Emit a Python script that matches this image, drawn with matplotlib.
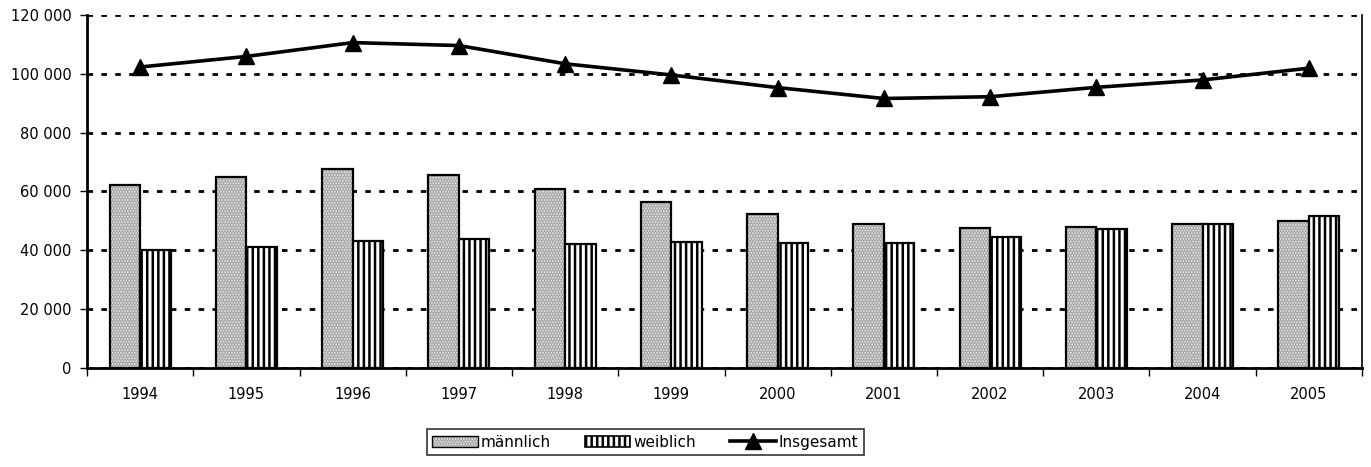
import matplotlib
matplotlib.use("Agg")
import matplotlib.pyplot as plt
import numpy as np
from matplotlib.patches import Patch
from matplotlib.lines import Line2D
from matplotlib.legend_handler import HandlerTuple
from matplotlib.ticker import FuncFormatter

years = ["1994", "1995", "1996", "1997", "1998", "1999",
         "2000", "2001", "2002", "2003", "2004", "2005"]
maennlich = [62200, 64800, 67600, 65500, 60800, 56500,
             52500, 48800, 47600, 47900, 49000, 50000]
weiblich = [40000, 41000, 43100, 44000, 42300, 42800,
            42500, 42500, 44400, 47200, 48800, 51800]
insgesamt = [102300, 105900, 110600, 109600, 103400, 99600,
             95300, 91600, 92200, 95400, 97900, 101900]

plt.rcParams['font.family'] = ['DejaVu Sans']
plt.rcParams['hatch.linewidth'] = 1.8

fig = plt.figure(figsize=(13.71, 4.67), dpi=100)
ax = fig.add_axes([0.0635, 0.212, 0.9299, 0.756])

x = np.arange(len(years))
w = 0.287
dot_face, dot_col = '#f2f2f2', '#9a9a9a'

# male bars: dotted fill, then black outline on top
ax.bar(x - w / 2, maennlich, w, color=dot_face, edgecolor=dot_col,
       hatch='......', linewidth=0, zorder=2)
ax.bar(x - w / 2, maennlich, w, fill=False, edgecolor='black',
       linewidth=1.6, zorder=3)
# female bars: vertical stripes
ax.bar(x + w / 2, weiblich, w, color='white', edgecolor='black',
       hatch='|||', linewidth=1.6, zorder=3)

ax.plot(x, insgesamt, color='black', linewidth=2.6, marker='^',
        markersize=11, zorder=4)

ax.set_xlim(-0.5, len(years) - 0.5)
ax.set_ylim(0, 120000)
ax.set_yticks(np.arange(0, 120001, 20000))
ax.yaxis.set_major_formatter(FuncFormatter(lambda v, p: f"{int(v):,}".replace(",", " ")))
ax.yaxis.grid(True, color='black', linestyle=(0, (2, 3)), linewidth=2.0, zorder=1)
ax.set_axisbelow(True)

ax.set_xticks(x)
ax.set_xticklabels(years)
ax.set_xticks(np.arange(-0.5, len(years)), minor=True)
ax.tick_params(axis='x', which='major', length=0, pad=14, labelsize=10.5)
ax.tick_params(axis='x', which='minor', length=6, width=1, direction='out')
ax.tick_params(axis='y', length=5, width=1, pad=6, labelsize=10.5)

ax.spines['top'].set_visible(False)
for s in ['left', 'bottom']:
    ax.spines[s].set_linewidth(2)
ax.spines['right'].set_linewidth(1.2)

h_m = (Patch(facecolor=dot_face, edgecolor=dot_col, hatch='......', linewidth=0),
       Patch(fill=False, edgecolor='black', linewidth=1.0))
h_w = Patch(facecolor='white', edgecolor='black', hatch='|||', linewidth=1.2)
h_t = Line2D([], [], color='black', linewidth=2.6, marker='^', markersize=11)

leg = fig.legend([h_m, h_w, h_t], ['männlich', 'weiblich', 'Insgesamt'],
                 handler_map={tuple: HandlerTuple(ndivide=1, pad=0)},
                 loc='center', bbox_to_anchor=(0.4705, 0.0535), ncol=3,
                 fontsize=11, frameon=True, fancybox=False, edgecolor='black',
                 handlelength=3.0, handleheight=0.7, handletextpad=0.2,
                 columnspacing=2.2, borderpad=0.35, borderaxespad=0)
leg.get_frame().set_linewidth(1.2)

fig.savefig("out.png", dpi=100)
